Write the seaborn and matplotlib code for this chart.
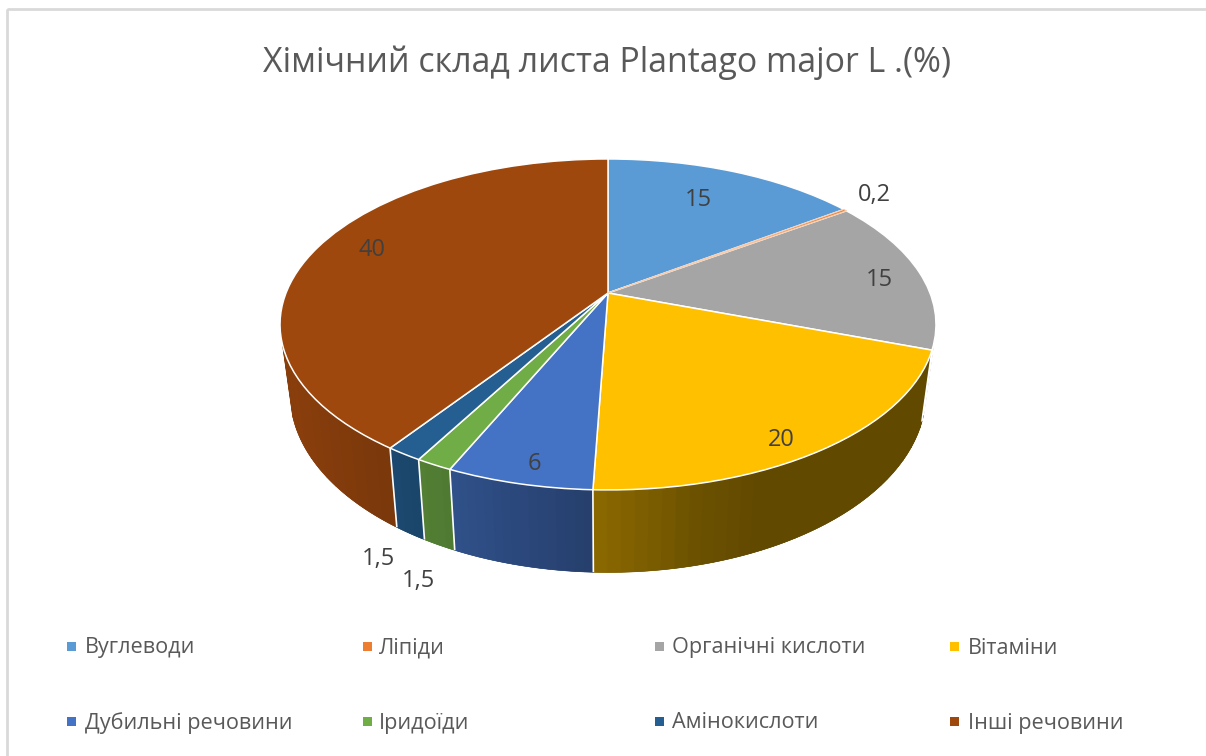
import numpy as np
import matplotlib
matplotlib.use("Agg")
import matplotlib.pyplot as plt
from matplotlib.patches import Rectangle
from matplotlib.transforms import Transform
import seaborn as sns

TITLE = "Хімічний склад листа Plantago major L .(%)"
CATEGORIES = ["Вуглеводи", "Ліпіди", "Органічні кислоти", "Вітаміни",
              "Дубильні речовини", "Іридоїди", "Амінокислоти", "Інші речовини"]
VALUES = [15, 0.2, 15, 20, 6, 1.5, 1.5, 40]
COLORS = ["#5B9BD5", "#ED7D31", "#A5A5A5", "#FFC000",
          "#4472C4", "#70AD47", "#255E91", "#9E480E"]

LABEL_XY = [(698, 199.5), (874, 195.5), (879, 280.5), (781, 439.5),
            (534, 463.5), (378, 558.5), (418, 581.5), (372, 249.5)]
LEGEND_XY = [(67, 646), (363, 646), (655, 646), (950, 646),
             (67, 721), (363, 721), (655, 721), (950, 721)]
LEGEND_TEXT_X = [85, 379, 672, 968, 85, 379, 672, 968]

sns.set_theme(style="white")
plt.rcParams["font.family"] = ["Open Sans", "DejaVu Sans"]


class Perspective(Transform):
    """Tilted-disc projection from unit-circle coordinates to pixels."""
    input_dims = output_dims = 2
    has_inverted = False

    def __init__(self, cx, cy, a, b, k):
        super().__init__()
        self.p = (cx, cy, a, b, k)

    def transform_non_affine(self, xy):
        cx, cy, a, b, k = self.p
        xy = np.asarray(xy, float)
        w = 1 + k * xy[:, 1]
        return np.column_stack([cx + a * xy[:, 0] / w, cy - b * xy[:, 1] / w])


top = Perspective(608, 293, 322, 159.5, 0.19)
bottom = Perspective(608, 360, 312, 172, 0.19)
VISIBLE_BELOW = -0.3


def shade(x):
    return np.interp(x, [290, 590, 700, 760], [0.87, 0.555, 0.42, 0.38])


palette = sns.color_palette(COLORS)
fig = plt.figure(figsize=(12.06, 7.56), dpi=100, facecolor="white")
ax = fig.add_axes([0, 0, 1, 1])

wedges, _ = ax.pie(VALUES, colors=palette, startangle=90, counterclock=False,
                   wedgeprops=dict(edgecolor="white", linewidth=1.1, zorder=5))
for w in wedges:
    w.set_transform(top + ax.transData)
wedges[1].set_edgecolor("#F7CDB0")
wedges[1].set_linewidth(0.8)
wedges[1].set_zorder(5.5)

ax.set_aspect("auto")
ax.set_xlim(0, 1206)
ax.set_ylim(756, 0)
ax.set_axis_off()

ax.add_patch(Rectangle((7, 9), 1300, 900, facecolor="none",
                       edgecolor="#D9D9D9", linewidth=2, zorder=0))

# Side wall: visible part of the rim, as a base shape plus shaded strips
edges = 90 - np.cumsum([0] + VALUES) / np.sum(VALUES) * 360
for i, c in enumerate(palette):
    th = np.radians(np.linspace(edges[i], edges[i + 1],
                                max(4, int(abs(edges[i] - edges[i + 1]) * 3))))
    th = th[np.sin(th) < VISIBLE_BELOW]
    if len(th) < 2:
        continue
    pts = np.column_stack([np.cos(th), np.sin(th)])
    t, b = top.transform(pts), bottom.transform(pts)
    mid = tuple(np.array(c) * shade(t[:, 0].mean()))
    ax.fill(np.r_[t[:, 0], b[::-1, 0]], np.r_[t[:, 1], b[::-1, 1]],
            facecolor=mid, edgecolor=mid, linewidth=0.3, zorder=1.5)
    step = max(1, int(np.ceil(8 / max(1e-6, np.abs(np.diff(t[:, 0])).mean()))))
    for j in range(0, len(th) - 1, step):
        k = min(j + step, len(th) - 1)
        col = tuple(np.array(c) * shade((t[j, 0] + t[k, 0]) / 2))
        ax.fill(np.r_[t[j:k + 1, 0], b[k:j - 1 if j else None:-1, 0]],
                np.r_[t[j:k + 1, 1], b[k:j - 1 if j else None:-1, 1]],
                facecolor=col, edgecolor=col, linewidth=0.5, zorder=2)
    if i > 0:
        ax.plot([t[0, 0], b[0, 0]], [t[0, 1], b[0, 1]], color="white",
                lw=1.2, zorder=3, solid_capstyle="butt")

for (x, y), v in zip(LABEL_XY, VALUES):
    ax.text(x, y, f"{v:g}".replace(".", ","), ha="center", va="center",
            fontsize=17, color="#404040", zorder=6)

ax.text(607, 63, TITLE, ha="center", va="center", fontsize=24.4, color="#595959")

for (x, y), tx, name, c in zip(LEGEND_XY, LEGEND_TEXT_X, CATEGORIES, palette):
    ax.add_patch(Rectangle((x, y - 4.5), 9, 9, facecolor=c, edgecolor="none"))
    ax.text(tx, y + 2, name, ha="left", va="center", fontsize=15.6,
            color="#595959")

fig.savefig("out.png", dpi=100)
